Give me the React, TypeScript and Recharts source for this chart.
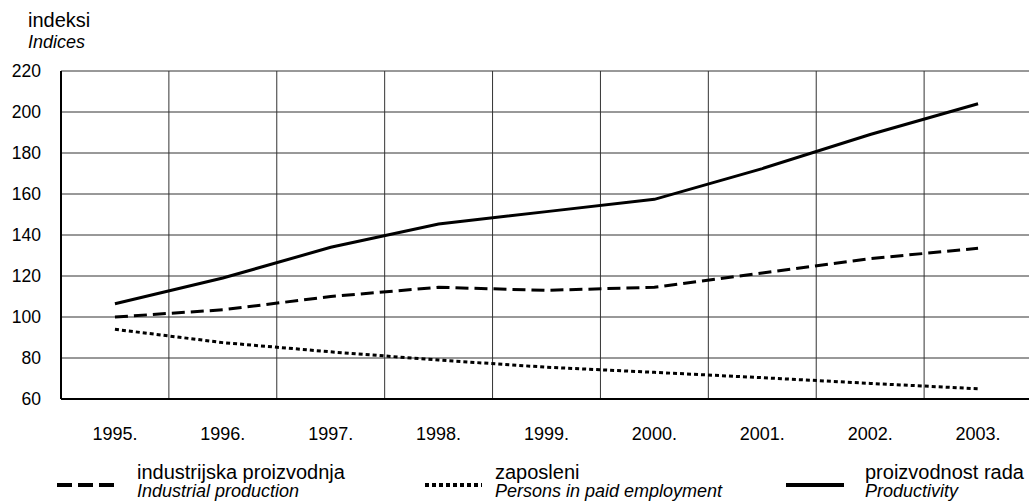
import React from "react";
import {
  LineChart,
  Line,
  XAxis,
  YAxis,
  CartesianGrid,
  ReferenceLine,
  Legend,
} from "recharts";

const years = [1995, 1996, 1997, 1998, 1999, 2000, 2001, 2002, 2003];
const industrialProduction = [100, 103.5, 110, 114.5, 113, 114.5, 121.5, 128.5, 133.5];
const personsEmployed = [94, 87.5, 83, 79, 75.5, 73, 70.4, 67.6, 65];
const productivity = [106.5, 119, 134, 145.4, 151.4, 157.4, 172.4, 189, 204];
const yTicks = [60, 80, 100, 120, 140, 160, 180, 200, 220];

const seriesKeys = ["industrial", "employed", "productivity"];
const seriesNames = ["industrijska proizvodnja", "zaposleni", "proizvodnost rada"];
const seriesNamesEn = ["Industrial production", "Persons in paid employment", "Productivity"];
const seriesDash = ["13 6", "4 3", undefined];
const legendDash = ["15 6", "4 3", undefined];

const data = years.map((year, i) => ({
  year,
  industrial: industrialProduction[i],
  employed: personsEmployed[i],
  productivity: productivity[i],
}));

const boundaries = years.slice(0, -1).map((y) => y + 0.5);

const FONT = "'Liberation Sans', Arial, Helvetica, sans-serif";

const legendLayout = [
  { x1: 57, x2: 114, tx: 137 },
  { x1: 425, x2: 482, tx: 495 },
  { x1: 786, x2: 844, tx: 865 },
];

const LegendContent = () => (
  <svg width={1029} height={63} style={{ display: "block" }}>
    {seriesKeys.map((k, i) => (
      <g key={k}>
        <line
          x1={legendLayout[i].x1}
          x2={legendLayout[i].x2}
          y1={45}
          y2={45}
          stroke="#000"
          strokeWidth={4}
          strokeDasharray={legendDash[i]}
        />
        <text x={legendLayout[i].tx} y={39} fontSize={20} fontFamily={FONT} fill="#000">
          {seriesNames[i]}
        </text>
        <text
          x={legendLayout[i].tx}
          y={57}
          fontSize={18}
          fontStyle="italic"
          fontFamily={FONT}
          fill="#000"
        >
          {seriesNamesEn[i]}
        </text>
      </g>
    ))}
  </svg>
);

export default function App() {
  return (
    <div
      style={{
        position: "absolute",
        left: 0,
        top: 0,
        width: 1029,
        height: 503,
        overflow: "hidden",
        background: "#fff",
        fontFamily: FONT,
      }}
    >
      <div style={{ position: "absolute", left: 28, top: 9, fontSize: 20, lineHeight: "22px", color: "#000" }}>
        indeksi
      </div>
      <div
        style={{
          position: "absolute",
          left: 28,
          top: 32,
          fontSize: 18,
          lineHeight: "20px",
          fontStyle: "italic",
          color: "#000",
        }}
      >
        Indices
      </div>
      <div style={{ position: "absolute", left: 0, top: 0 }}>
        <LineChart
          width={1033}
          height={503}
          data={data}
          margin={{ top: 71, right: 1, bottom: 74, left: 0 }}
        >
          <CartesianGrid vertical={false} stroke="#333" strokeWidth={1} />
          {boundaries.map((b) => (
            <ReferenceLine key={b} x={b} stroke="#333" strokeWidth={1} />
          ))}
          <XAxis
            dataKey="year"
            type="number"
            domain={[1994.5, 2003.5]}
            ticks={years}
            tickFormatter={(v) => `${v}.`}
            tickLine={false}
            tickSize={0}
            tickMargin={28}
            height={30}
            axisLine={{ stroke: "#000", strokeWidth: 2 }}
            tick={{ fill: "#000", fontSize: 18, fontFamily: FONT }}
            interval={0}
          />
          <YAxis
            domain={[60, 220]}
            ticks={yTicks}
            width={61}
            tickLine={false}
            tickSize={0}
            tickMargin={20}
            axisLine={{ stroke: "#000", strokeWidth: 2 }}
            tick={{ fill: "#000", fontSize: 17.5, fontFamily: FONT }}
            interval={0}
          />
          <Legend
            layout="horizontal"
            verticalAlign="middle"
            align="center"
            wrapperStyle={{ left: 0, top: 440, width: 1029, height: 63 }}
            content={() => <LegendContent />}
          />
          {seriesKeys.map((k, i) => (
            <Line
              key={k}
              dataKey={k}
              name={seriesNames[i]}
              type="linear"
              stroke="#000"
              strokeWidth={3}
              strokeDasharray={seriesDash[i]}
              dot={false}
              activeDot={false}
              isAnimationActive={false}
            />
          ))}
        </LineChart>
      </div>
    </div>
  );
}
